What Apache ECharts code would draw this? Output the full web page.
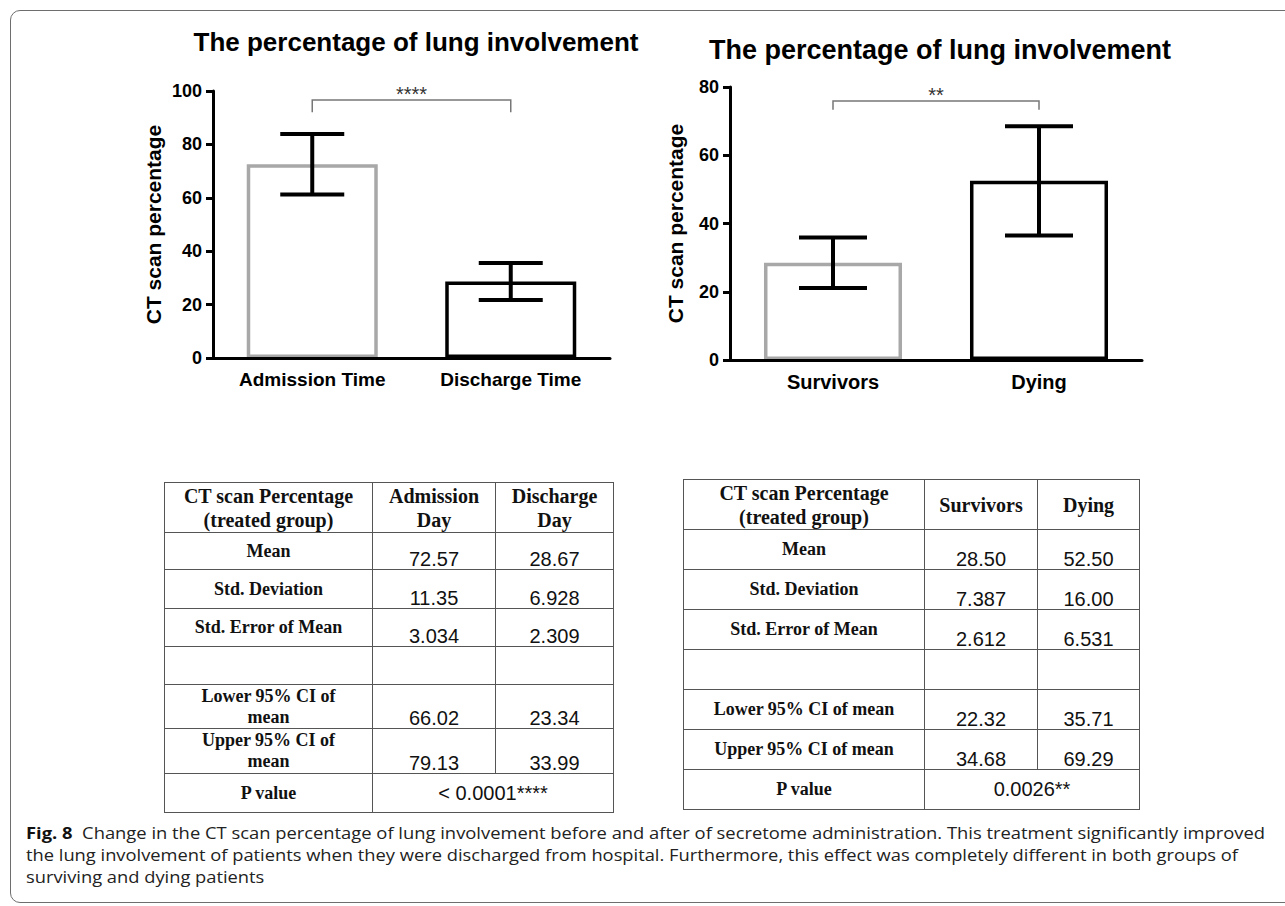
<!DOCTYPE html>
<html>
<head>
<meta charset="utf-8">
<script src="https://cdn.jsdelivr.net/npm/echarts@6/dist/echarts.min.js"></script>
<style>
  html, body { margin:0; padding:0; width:1285px; height:906px; overflow:hidden; background:#fff; }
  #frame { position:absolute; left:10px; top:10px; width:1320px; height:893px; border:1.5px solid #6e6e6e; border-radius:10px; box-sizing:border-box; }
  #chart { position:absolute; left:0; top:0; width:1285px; height:440px; }
  table.t { position:absolute; border-collapse:collapse; table-layout:fixed; }
  table.t td { border:1.5px solid #555; padding:0; text-align:center; color:#111; }
  td.lab { font-family:"Liberation Serif","Times New Roman",serif; font-weight:bold; font-size:18px; line-height:21px; vertical-align:middle; white-space:pre-line; }
  td.hd { font-family:"Liberation Serif","Times New Roman",serif; font-weight:bold; font-size:20px; line-height:24px; vertical-align:middle; white-space:pre-line; }
  td.val { font-family:"Liberation Sans",Arial,sans-serif; font-size:20px; line-height:20px; vertical-align:bottom; padding-bottom:3px; }
  td.pv { font-family:"Liberation Sans",Arial,sans-serif; font-size:20px; vertical-align:middle; }
  .cap { position:absolute; left:26px; white-space:nowrap; font-family:"Open Sans","Noto Sans",sans-serif; font-size:16px; line-height:22px; height:22px; color:#222; transform-origin:0 50%; }
  .cap b { font-weight:bold; color:#111; }
</style>
</head>
<body>
<div id="frame"></div>
<div id="chart"></div>
<div id="tables"></div>
<div id="caption"></div>
<script>
// ---------- data ----------
const chartTitle = 'The percentage of lung involvement';
const yAxisTitle = 'CT scan percentage';

const leftCategories = ['Admission Time', 'Discharge Time'];
const leftMeans = [72.57, 28.67];
const leftSD = [11.35, 6.928];
const leftYMax = 100, leftYStep = 20;
const leftSig = '****';
const leftBracket = [96.6, 92.0]; // top value, drop value

const rightCategories = ['Survivors', 'Dying'];
const rightMeans = [28.50, 52.50];
const rightSD = [7.387, 16.00];
const rightYMax = 80, rightYStep = 20;
const rightSig = '**';
const rightBracket = [75.9, 73.3];

const barBorderColors = ['#a8a8a8', '#000000'];

// tables
const t1Header = ['CT scan Percentage\n(treated group)', 'Admission\nDay', 'Discharge\nDay'];
const t1Labels = ['Mean', 'Std. Deviation', 'Std. Error  of Mean', '', 'Lower 95% CI of\nmean', 'Upper 95% CI of\nmean'];
const t1ColA = ['72.57', '11.35', '3.034', '', '66.02', '79.13'];
const t1ColB = ['28.67', '6.928', '2.309', '', '23.34', '33.99'];
const t1P = '< 0.0001****';

const t2Header = ['CT scan Percentage\n(treated group)', 'Survivors', 'Dying'];
const t2Labels = ['Mean', 'Std. Deviation', 'Std. Error  of Mean', '', 'Lower 95% CI of mean', 'Upper 95% CI of mean'];
const t2ColA = ['28.50', '7.387', '2.612', '', '22.32', '34.68'];
const t2ColB = ['52.50', '16.00', '6.531', '', '35.71', '69.29'];
const t2P = '0.0026**';

const captionBold = 'Fig. 8';
const captionLines = [
  'Change in the CT scan percentage of lung involvement before and after of secretome administration. This treatment significantly improved',
  'the lung involvement of patients when they were discharged from hospital. Furthermore, this effect was completely different in both groups of',
  'surviving and dying patients'
];

// ---------- chart ----------
const chart = echarts.init(document.getElementById('chart'), null, { renderer: 'svg' });
const AX = '"Liberation Sans", Arial, sans-serif';

function errData(means, sds) { return means.map((m, i) => [i, m - sds[i], m + sds[i]]); }

function errRender(half) {
  return function (params, api) {
    const x = api.value(0);
    const lo = api.coord([x, api.value(1)]);
    const hi = api.coord([x, api.value(2)]);
    const st = { stroke: '#000', lineWidth: 4 };
    return { type: 'group', children: [
      { type: 'line', shape: { x1: lo[0], y1: lo[1], x2: hi[0], y2: hi[1] }, style: st },
      { type: 'line', shape: { x1: lo[0] - half, y1: lo[1], x2: lo[0] + half, y2: lo[1] }, style: st },
      { type: 'line', shape: { x1: hi[0] - half, y1: hi[1], x2: hi[0] + half, y2: hi[1] }, style: st }
    ]};
  };
}

function bracketRender(params, api) {
  const a = api.coord([api.value(0), api.value(2)]);
  const b = api.coord([api.value(1), api.value(2)]);
  const da = api.coord([api.value(0), api.value(3)]);
  return { type: 'group', children: [
    { type: 'polyline', shape: { points: [[a[0], da[1]], [a[0], a[1]], [b[0], a[1]], [b[0], da[1]]] },
      style: { stroke: '#777', lineWidth: 1.5, fill: null } },
    { type: 'text', style: { text: params.seriesIndex === 2 ? leftSig : rightSig, x: (a[0] + b[0]) / 2, y: a[1] - 6,
      align: 'center', verticalAlign: 'middle', font: '20px ' + AX, fill: '#333' } }
  ]};
}

function xAx(idx, cats, size, margin) {
  return {
    type: 'category', gridIndex: idx, data: cats, z: 10,
    axisLine: { lineStyle: { color: '#000', width: 3 } },
    axisTick: { alignWithLabel: true, length: 7, lineStyle: { color: '#000', width: 3 } },
    axisLabel: { color: '#000', fontFamily: AX, fontWeight: 'bold', fontSize: size, margin: margin }
  };
}
function yAx(idx, max, step, gap) {
  return {
    type: 'value', gridIndex: idx, min: 0, max: max, interval: step, z: 10,
    name: yAxisTitle, nameLocation: 'middle', nameRotate: 90, nameGap: gap,
    nameTextStyle: { color: '#000', fontFamily: AX, fontWeight: 'bold', fontSize: 21 },
    axisLine: { show: true, lineStyle: { color: '#000', width: 3 } },
    axisTick: { show: true, length: 7, lineStyle: { color: '#000', width: 3 } },
    splitLine: { show: false },
    axisLabel: { color: '#000', fontFamily: AX, fontWeight: 'bold', fontSize: 18, margin: 11 }
  };
}

chart.setOption({
  animation: false,
  title: [
    { text: chartTitle, left: 411, top: 24, textAlign: 'center',
      textStyle: { fontFamily: AX, fontWeight: 'bold', fontSize: 26, color: '#000' } },
    { text: chartTitle, left: 935, top: 31, textAlign: 'center',
      textStyle: { fontFamily: AX, fontWeight: 'bold', fontSize: 27, color: '#000' } }
  ],
  grid: [
    { left: 213, top: 91, width: 397, height: 267 },
    { left: 730, top: 87, width: 412, height: 273 }
  ],
  xAxis: [xAx(0, leftCategories, 19, 12), xAx(1, rightCategories, 20, 12)],
  yAxis: [yAx(0, leftYMax, leftYStep, 49), yAx(1, rightYMax, rightYStep, 44)],
  series: [
    { type: 'bar', xAxisIndex: 0, yAxisIndex: 0, barWidth: '66%',
      data: leftMeans.map((v, i) => ({ value: v, itemStyle: { color: '#fff', borderColor: barBorderColors[i], borderWidth: 3.5 } })) },
    { type: 'bar', xAxisIndex: 1, yAxisIndex: 1, barWidth: '67%',
      data: rightMeans.map((v, i) => ({ value: v, itemStyle: { color: '#fff', borderColor: barBorderColors[i], borderWidth: 3.5 } })) },
    { type: 'custom', xAxisIndex: 0, yAxisIndex: 0, renderItem: bracketRender, data: [[0, 1, leftBracket[0], leftBracket[1]]], z: 5 },
    { type: 'custom', xAxisIndex: 1, yAxisIndex: 1, renderItem: bracketRender, data: [[0, 1, rightBracket[0], rightBracket[1]]], z: 5 },
    { type: 'custom', xAxisIndex: 0, yAxisIndex: 0, renderItem: errRender(32), data: errData(leftMeans, leftSD), z: 6 },
    { type: 'custom', xAxisIndex: 1, yAxisIndex: 1, renderItem: errRender(34), data: errData(rightMeans, rightSD), z: 6 }
  ]
});

// ---------- tables ----------
function buildTable(pos, colW, rowH, header, labels, colA, colB, p) {
  const tb = document.createElement('table');
  tb.className = 't';
  tb.style.left = pos[0] + 'px'; tb.style.top = pos[1] + 'px';
  tb.style.width = colW.reduce((a, b) => a + b, 0) + 'px';
  const cg = document.createElement('colgroup');
  colW.forEach(w => { const c = document.createElement('col'); c.style.width = w + 'px'; cg.appendChild(c); });
  tb.appendChild(cg);
  function cell(tr, txt, cls, span) {
    const td = document.createElement('td'); td.className = cls; td.textContent = txt;
    if (span) td.colSpan = span; tr.appendChild(td); return td;
  }
  let tr = document.createElement('tr'); tr.style.height = rowH[0] + 'px';
  header.forEach(h => cell(tr, h, 'hd')); tb.appendChild(tr);
  labels.forEach((l, i) => {
    tr = document.createElement('tr'); tr.style.height = rowH[i + 1] + 'px';
    cell(tr, l, 'lab'); cell(tr, colA[i], 'val'); cell(tr, colB[i], 'val'); tb.appendChild(tr);
  });
  tr = document.createElement('tr'); tr.style.height = rowH[rowH.length - 1] + 'px';
  cell(tr, 'P value', 'lab'); cell(tr, p, 'pv', 2); tb.appendChild(tr);
  document.getElementById('tables').appendChild(tb);
}
buildTable([164, 482], [208, 123, 118], [50, 37, 39, 38, 38, 44, 45, 39], t1Header, t1Labels, t1ColA, t1ColB, t1P);
buildTable([683, 479], [241, 113, 102], [50, 40, 40, 40, 40, 40, 40, 40], t2Header, t2Labels, t2ColA, t2ColB, t2P);

// ---------- caption ----------
const capTops = [822, 844, 866];
const capEnds = [1265, 1238, null];
const capEl = document.getElementById('caption');
let lastScale = 1;
captionLines.forEach((line, i) => {
  const d = document.createElement('div');
  d.className = 'cap';
  d.style.top = capTops[i] + 'px';
  if (i === 0) {
    const b = document.createElement('b'); b.textContent = captionBold + '  ';
    b.style.whiteSpace = 'pre';
    d.appendChild(b);
  }
  d.appendChild(document.createTextNode(line));
  capEl.appendChild(d);
  const w = d.getBoundingClientRect().width;
  const s = capEnds[i] ? (capEnds[i] - 26) / w : lastScale;
  lastScale = s;
  d.style.transform = 'scaleX(' + s + ')';
});
</script>
</body>
</html>
